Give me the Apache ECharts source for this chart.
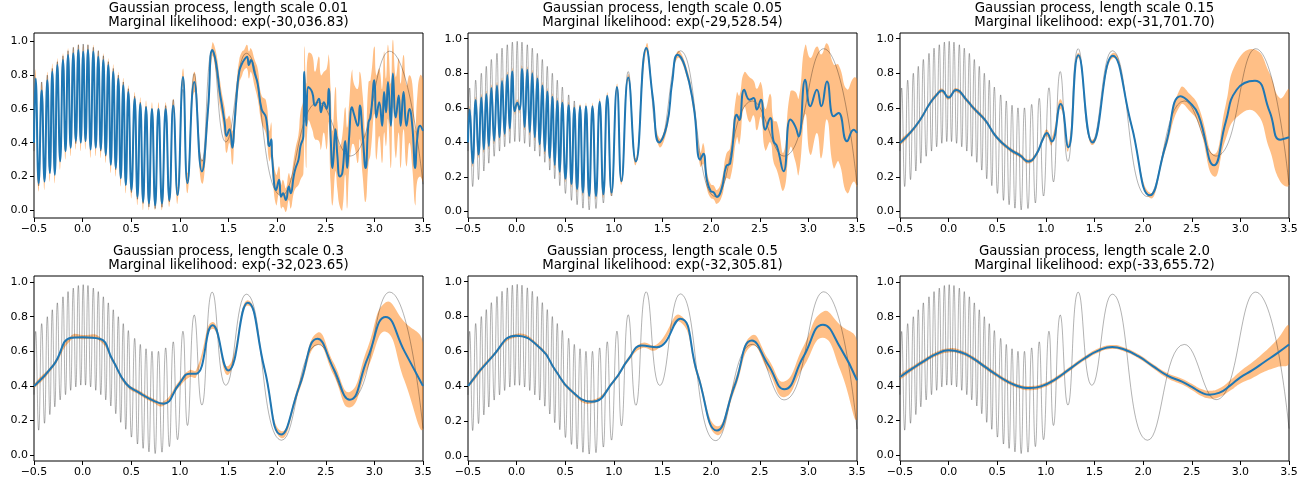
<!DOCTYPE html>
<html>
<head>
<meta charset="utf-8">
<script src="https://cdn.jsdelivr.net/npm/echarts@6.0.0/dist/echarts.min.js"></script>
<style>
  html, body { margin: 0; padding: 0; background: #fff; }
  #chart { width: 1314px; height: 486px; }
</style>
</head>
<body>
<div id="chart"></div>
<script>
const trueX = [-0.5, -0.483, -0.452, -0.421, -0.392, -0.363, -0.337, -0.312, -0.286, -0.26, -0.231, -0.202, -0.176, -0.15, -0.123, -0.096, -0.07, -0.044, -0.019, 0.006,
  0.03, 0.055, 0.082, 0.11, 0.135, 0.161, 0.187, 0.213, 0.238, 0.264, 0.29, 0.315, 0.341, 0.367, 0.392, 0.418, 0.444, 0.47, 0.502, 0.535,
  0.564, 0.593, 0.622, 0.652, 0.682, 0.713, 0.746, 0.78, 0.816, 0.854, 0.892, 0.932, 0.976, 1.032, 1.078, 1.148, 1.226, 1.333, 1.473, 1.683,
  2.047, 2.424, 2.749, 3.157, 3.5]
const trueY = [0.35, 0.715, 0.145, 0.76, 0.185, 0.80, 0.235, 0.84, 0.28, 0.88, 0.32, 0.915, 0.35, 0.945, 0.375, 0.965, 0.395, 0.98, 0.405, 0.985,
  0.405, 0.98, 0.395, 0.965, 0.375, 0.945, 0.35, 0.915, 0.32, 0.88, 0.285, 0.84, 0.24, 0.80, 0.19, 0.76, 0.15, 0.72, 0.105, 0.675,
  0.065, 0.64, 0.04, 0.615, 0.02, 0.60, 0.01, 0.60, 0.018, 0.62, 0.05, 0.655, 0.09, 0.716, 0.172, 0.81, 0.29, 0.942, 0.404, 0.93,
  0.087, 0.64, 0.321, 0.942, 0.154]

// length scale 0.01
const p1X = [-0.5, -0.483, -0.452, -0.421, -0.392, -0.363, -0.337, -0.312, -0.286, -0.26, -0.231, -0.202, -0.176, -0.15, -0.123, -0.096, -0.07, -0.044, -0.019, 0.006,
  0.03, 0.055, 0.082, 0.11, 0.135, 0.161, 0.187, 0.213, 0.238, 0.264, 0.29, 0.315, 0.341, 0.367, 0.392, 0.418, 0.444, 0.47, 0.502, 0.535,
  0.564, 0.593, 0.622, 0.652, 0.682, 0.713, 0.746, 0.78, 0.816, 0.854, 0.892, 0.932, 0.976, 1.032, 1.078, 1.148, 1.226,
  1.29, 1.333, 1.37, 1.41, 1.43, 1.46, 1.48, 1.51, 1.54, 1.56,
  1.58, 1.61, 1.64, 1.66, 1.69, 1.71, 1.73, 1.77, 1.80, 1.84,
  1.885, 1.92, 1.94, 1.95, 1.99, 2.02, 2.04, 2.06, 2.09, 2.12,
  2.14, 2.17, 2.19, 2.22, 2.24, 2.27, 2.28, 2.30, 2.32, 2.36,
  2.39, 2.43, 2.45, 2.48, 2.51, 2.53, 2.55, 2.57, 2.60, 2.62,
  2.645, 2.67, 2.70, 2.72, 2.74, 2.77, 2.79, 2.83, 2.85, 2.88,
  2.91, 2.94, 2.96, 3.00, 3.02, 3.05, 3.08, 3.10, 3.12, 3.14,
  3.17, 3.19, 3.22, 3.25, 3.27, 3.30, 3.33, 3.36, 3.39, 3.42,
  3.44, 3.47, 3.50]
const p1Mean = [0.40, 0.78, 0.16, 0.71, 0.17, 0.77, 0.22, 0.82, 0.21, 0.86, 0.29, 0.89, 0.35, 0.92, 0.37, 0.93, 0.41, 0.95, 0.40, 0.94,
  0.41, 0.95, 0.36, 0.94, 0.37, 0.91, 0.36, 0.89, 0.33, 0.86, 0.27, 0.82, 0.25, 0.78, 0.19, 0.74, 0.15, 0.70, 0.12, 0.66,
  0.08, 0.63, 0.05, 0.61, 0.04, 0.60, 0.03, 0.60, 0.04, 0.60, 0.06, 0.62, 0.09, 0.79, 0.16, 0.76, 0.23,
  0.60, 0.95, 0.88, 0.70, 0.63, 0.52, 0.44, 0.48, 0.37, 0.50,
  0.65, 0.82, 0.87, 0.89, 0.91, 0.86, 0.89, 0.81, 0.75, 0.60,
  0.55, 0.38, 0.42, 0.30, 0.12, 0.18, 0.08, 0.10, 0.06, 0.14,
  0.10, 0.20, 0.25, 0.30, 0.38, 0.44, 0.82, 0.50, 0.73, 0.70,
  0.62, 0.66, 0.58, 0.64, 0.60, 0.72, 0.44, 0.25, 0.48, 0.32,
  0.20, 0.22, 0.41, 0.25, 0.43, 0.61, 0.57, 0.50, 0.62, 0.44,
  0.25, 0.52, 0.55, 0.77, 0.55, 0.64, 0.50, 0.70, 0.58, 0.76,
  0.50, 0.81, 0.55, 0.68, 0.50, 0.70, 0.50, 0.60, 0.50, 0.25,
  0.42, 0.50, 0.47]
const p1Err = [0.04, 0.05, 0.05, 0.05, 0.05, 0.05, 0.05, 0.05, 0.05, 0.04, 0.05, 0.04, 0.05, 0.04, 0.05, 0.04, 0.05, 0.035, 0.05, 0.04,
  0.05, 0.035, 0.05, 0.04, 0.05, 0.04, 0.05, 0.04, 0.05, 0.04, 0.05, 0.045, 0.05, 0.04, 0.05, 0.045, 0.05, 0.04, 0.05, 0.04,
  0.05, 0.04, 0.05, 0.04, 0.04, 0.04, 0.03, 0.04, 0.04, 0.04, 0.04, 0.04, 0.05, 0.05, 0.06, 0.06, 0.07,
  0.07, 0.04, 0.06, 0.08, 0.07, 0.09, 0.10, 0.08, 0.10, 0.08,
  0.08, 0.07, 0.07, 0.06, 0.07, 0.08, 0.07, 0.08, 0.09, 0.08,
  0.10, 0.09, 0.10, 0.08, 0.09, 0.08, 0.07, 0.08, 0.07, 0.08,
  0.09, 0.10, 0.12, 0.15, 0.20, 0.22, 0.15, 0.25, 0.20, 0.22,
  0.20, 0.25, 0.22, 0.18, 0.24, 0.20, 0.28, 0.22, 0.25, 0.20,
  0.18, 0.22, 0.20, 0.24, 0.20, 0.22, 0.18, 0.22, 0.20, 0.24,
  0.20, 0.24, 0.22, 0.20, 0.25, 0.20, 0.22, 0.24, 0.20, 0.22,
  0.25, 0.20, 0.24, 0.22, 0.25, 0.22, 0.24, 0.20, 0.25, 0.22,
  0.25, 0.30, 0.30]

// length scale 0.05
const p2X = [-0.5, -0.483, -0.452, -0.421, -0.392, -0.363, -0.337, -0.312, -0.286, -0.26, -0.231, -0.202, -0.176, -0.15, -0.123, -0.096, -0.07, -0.044, -0.019, 0.006,
  0.03, 0.055, 0.082, 0.11, 0.135, 0.161, 0.187, 0.213, 0.238, 0.264, 0.29, 0.315, 0.341, 0.367, 0.392, 0.418, 0.444, 0.47, 0.502, 0.535,
  0.564, 0.593, 0.622, 0.652, 0.682, 0.713, 0.746, 0.78, 0.816, 0.854, 0.892, 0.932, 0.976, 1.032, 1.078, 1.148,
  1.226, 1.333, 1.40, 1.466, 1.545, 1.60, 1.655, 1.73, 1.82, 1.888, 1.92, 1.956, 1.997, 2.025, 2.06, 2.11, 2.155, 2.196, 2.265, 2.29,
  2.34, 2.395, 2.437, 2.47, 2.512, 2.557, 2.608, 2.642, 2.677, 2.745, 2.814, 2.865, 2.9, 2.968, 3.02, 3.088, 3.133, 3.191, 3.26, 3.31,
  3.397, 3.466, 3.5]
const p2Mean = [0.40, 0.59, 0.28, 0.645, 0.33, 0.66, 0.36, 0.68, 0.38, 0.715, 0.41, 0.73, 0.43, 0.755, 0.45, 0.79, 0.48, 0.81, 0.58, 0.63,
  0.59, 0.825, 0.49, 0.82, 0.46, 0.80, 0.43, 0.77, 0.39, 0.73, 0.35, 0.695, 0.31, 0.665, 0.27, 0.64, 0.23, 0.63, 0.19, 0.615,
  0.16, 0.60, 0.13, 0.605, 0.11, 0.61, 0.09, 0.61, 0.09, 0.635, 0.10, 0.67, 0.11, 0.72, 0.175, 0.775,
  0.29, 0.946, 0.66, 0.40, 0.50, 0.75, 0.907, 0.84, 0.61, 0.30, 0.335, 0.185, 0.118, 0.112, 0.085, 0.137, 0.262, 0.28, 0.56, 0.53,
  0.705, 0.647, 0.657, 0.59, 0.647, 0.474, 0.541, 0.407, 0.378, 0.233, 0.532, 0.493, 0.435, 0.763, 0.609, 0.705, 0.609, 0.753, 0.551, 0.57,
  0.407, 0.474, 0.455]
const p2Err = [0.02, 0.02, 0.02, 0.02, 0.02, 0.02, 0.02, 0.02, 0.02, 0.02, 0.02, 0.02, 0.02, 0.02, 0.02, 0.02, 0.02, 0.02, 0.02, 0.02,
  0.02, 0.02, 0.02, 0.02, 0.02, 0.02, 0.02, 0.02, 0.02, 0.02, 0.02, 0.02, 0.02, 0.02, 0.02, 0.02, 0.02, 0.02, 0.02, 0.02,
  0.02, 0.02, 0.02, 0.02, 0.02, 0.02, 0.02, 0.02, 0.02, 0.02, 0.02, 0.02, 0.02, 0.02, 0.02, 0.02,
  0.02, 0.02, 0.02, 0.025, 0.03, 0.02, 0.02, 0.025, 0.03, 0.04, 0.06, 0.05, 0.04, 0.04, 0.04, 0.05, 0.07, 0.09, 0.13, 0.14,
  0.10, 0.13, 0.10, 0.12, 0.10, 0.12, 0.14, 0.12, 0.14, 0.11, 0.16, 0.20, 0.22, 0.20, 0.28, 0.25, 0.30, 0.22, 0.30, 0.28,
  0.30, 0.30, 0.31]

// length scale 0.15
const p3X = [-0.5, -0.397, -0.294, -0.19, -0.123, -0.07, 0.0, 0.076, 0.186, 0.254, 0.374, 0.494, 0.631, 0.734, 0.82, 0.9, 0.97, 1.01, 1.06, 1.152,
  1.231, 1.334, 1.481, 1.687, 1.88, 2.07, 2.23, 2.386, 2.48, 2.568, 2.729, 2.85, 2.962, 3.15, 3.3, 3.408, 3.5]
const p3Mean = [0.397, 0.455, 0.53, 0.628, 0.675, 0.70, 0.66, 0.703, 0.645, 0.60, 0.53, 0.43, 0.36, 0.325, 0.29, 0.33, 0.42, 0.455, 0.405, 0.622,
  0.372, 0.904, 0.40, 0.902, 0.50, 0.094, 0.38, 0.667, 0.63, 0.56, 0.268, 0.52, 0.705, 0.757, 0.58, 0.416, 0.43]
const p3Err = [0.012, 0.012, 0.012, 0.012, 0.012, 0.012, 0.012, 0.012, 0.012, 0.012, 0.012, 0.012, 0.012, 0.012, 0.012, 0.013, 0.015, 0.02, 0.02, 0.028,
  0.02, 0.015, 0.015, 0.015, 0.015, 0.015, 0.025, 0.05, 0.05, 0.05, 0.065, 0.10, 0.16, 0.18, 0.22, 0.24, 0.275]

// length scale 0.3
const p4X = [-0.5, -0.3, -0.117, 0.0, 0.174, 0.31, 0.448, 0.585, 0.722, 0.831, 0.995, 1.098, 1.166, 1.337, 1.498, 1.697, 1.87, 2.04, 2.23, 2.415,
  2.58, 2.747, 2.93, 3.117, 3.31, 3.5]
const p4Mean = [0.398, 0.52, 0.679, 0.682, 0.673, 0.548, 0.413, 0.36, 0.317, 0.298, 0.413, 0.471, 0.471, 0.75, 0.49, 0.88, 0.50, 0.12, 0.40, 0.673,
  0.50, 0.321, 0.56, 0.798, 0.60, 0.40]
const p4Err = [0.012, 0.012, 0.012, 0.012, 0.012, 0.012, 0.012, 0.012, 0.012, 0.012, 0.018, 0.02, 0.02, 0.02, 0.025, 0.015, 0.015, 0.02, 0.025, 0.035,
  0.035, 0.045, 0.06, 0.085, 0.17, 0.25]

// length scale 0.5
const p5X = [-0.5, -0.25, -0.006, 0.25, 0.4, 0.55, 0.773, 1.0, 1.15, 1.287, 1.44, 1.682, 1.86, 2.06, 2.24, 2.42, 2.59, 2.752, 2.95, 3.15, 3.33, 3.5]
const p5Mean = [0.40, 0.57, 0.69, 0.615, 0.49, 0.38, 0.31, 0.43, 0.555, 0.633, 0.624, 0.788, 0.47, 0.145, 0.40, 0.662, 0.52, 0.382, 0.57, 0.753, 0.62, 0.434]
const p5Err = [0.01, 0.01, 0.01, 0.01, 0.01, 0.01, 0.01, 0.01, 0.012, 0.015, 0.015, 0.02, 0.02, 0.025, 0.028, 0.03, 0.035, 0.045, 0.06, 0.075, 0.13, 0.225]

// length scale 2.0
const p6X = [-0.5, -0.375, -0.25, -0.125, 0.0, 0.125, 0.25, 0.375, 0.5, 0.625, 0.75, 0.837, 0.95, 1.1, 1.25, 1.4, 1.55, 1.683, 1.8, 1.95,
  2.1, 2.25, 2.4, 2.5, 2.6, 2.68, 2.78, 2.9, 3.0, 3.12, 3.25, 3.38, 3.5]
const p6Mean = [0.452, 0.50, 0.545, 0.585, 0.606, 0.595, 0.56, 0.51, 0.462, 0.42, 0.393, 0.388, 0.398, 0.44, 0.50, 0.56, 0.607, 0.625, 0.612, 0.572,
  0.515, 0.46, 0.425, 0.395, 0.362, 0.35, 0.36, 0.405, 0.45, 0.49, 0.54, 0.59, 0.64]
const p6Err = [0.012, 0.012, 0.012, 0.012, 0.012, 0.012, 0.012, 0.012, 0.012, 0.012, 0.012, 0.012, 0.012, 0.012, 0.012, 0.012, 0.012, 0.012, 0.012, 0.012,
  0.012, 0.015, 0.017, 0.018, 0.02, 0.022, 0.025, 0.03, 0.035, 0.045, 0.057, 0.08, 0.108]

const lengthScales = ['0.01', '0.05', '0.15', '0.3', '0.5', '2.0']
const likelihoods = ['-30,036.83', '-29,528.54', '-31,701.70', '-32,023.65', '-32,305.81', '-33,655.72']
const yTicks = [0, 0.2, 0.4, 0.6, 0.8, 1.0]

const panels = [
    { x: p1X, mean: p1Mean, err: p1Err },
    { x: p2X, mean: p2Mean, err: p2Err },
    { x: p3X, mean: p3Mean, err: p3Err },
    { x: p4X, mean: p4Mean, err: p4Err },
    { x: p5X, mean: p5Mean, err: p5Err },
    { x: p6X, mean: p6Mean, err: p6Err }
]
const yRanges = [[-0.046, 1.05], [-0.037, 1.033], [-0.037, 1.033], [-0.033, 1.035], [-0.03, 1.033], [-0.033, 1.035]]

const lefts = [34, 468, 900]
const tops = [33, 276]
const W = 389
const H = 185
const FONT = '"DejaVu Sans", sans-serif'

const chart = echarts.init(document.getElementById('chart'))

const grid = [], xAxis = [], yAxis = [], series = [], graphic = []
const truePts = trueX.map((x, k) => [x, trueY[k]])

panels.forEach((p, i) => {
    const left = lefts[i % 3]
    const top = tops[Math.floor(i / 3)]
    grid.push({ left: left, top: top, width: W, height: H, show: true, borderColor: '#000', borderWidth: 1, backgroundColor: 'transparent' })

    xAxis.push({
        type: 'value', gridIndex: i, min: -0.5, max: 3.5, interval: 0.5,
        axisLine: { show: false, onZero: false },
        axisTick: { show: true, length: 4, lineStyle: { color: '#000' } },
        splitLine: { show: false },
        axisLabel: {
            fontSize: 11, color: '#000', margin: 6, fontFamily: FONT,
            showMinLabel: true, showMaxLabel: true,
            formatter: v => v.toFixed(1).replace('-', '\u2212')
        }
    })
    yAxis.push({
        type: 'value', gridIndex: i, min: yRanges[i][0], max: yRanges[i][1],
        axisLine: { show: false, onZero: false },
        axisTick: { show: true, length: 4, lineStyle: { color: '#000' }, customValues: yTicks },
        splitLine: { show: false },
        axisLabel: {
            fontSize: 11, color: '#000', margin: 6, fontFamily: FONT,
            customValues: yTicks,
            formatter: v => v.toFixed(1)
        }
    })

    // band = mean +/- err, one smoothed polygon through the axis scales
    series.push({
        type: 'custom', xAxisIndex: i, yAxisIndex: i, clip: true, silent: true,
        data: [[p.x[0], p.mean[0]]],
        renderItem: (params, api) => {
            const upper = p.x.map((x, k) => api.coord([x, p.mean[k] + p.err[k]]))
            const lower = p.x.map((x, k) => api.coord([x, p.mean[k] - p.err[k]])).reverse()
            return {
                type: 'polygon',
                shape: { points: upper.concat(lower), smooth: 0.5 },
                style: { fill: 'rgba(255,127,14,0.5)' }
            }
        }
    })
    series.push({
        type: 'line', xAxisIndex: i, yAxisIndex: i, data: truePts,
        smooth: true, symbol: 'none', silent: true,
        lineStyle: { color: 'rgba(0,0,0,0.3)', width: 1 }
    })
    series.push({
        type: 'line', xAxisIndex: i, yAxisIndex: i,
        data: p.x.map((x, k) => [x, p.mean[k]]),
        smooth: true, symbol: 'none', silent: true,
        lineStyle: { color: '#1f77b4', width: 2 }
    })

    const cx = left + W / 2
    graphic.push({
        type: 'text', x: cx, y: top - 24, silent: true,
        style: { text: 'Gaussian process, length scale ' + lengthScales[i], align: 'center', verticalAlign: 'middle', fill: '#000', font: '13.3px ' + FONT }
    })
    graphic.push({
        type: 'text', x: cx, y: top - 10, silent: true,
        style: { text: 'Marginal likelihood: exp(' + likelihoods[i] + ')', align: 'center', verticalAlign: 'middle', fill: '#000', font: '13.3px ' + FONT }
    })
})

chart.setOption({
    animation: false,
    backgroundColor: '#fff',
    grid, xAxis, yAxis, series, graphic
})
</script>
</body>
</html>
